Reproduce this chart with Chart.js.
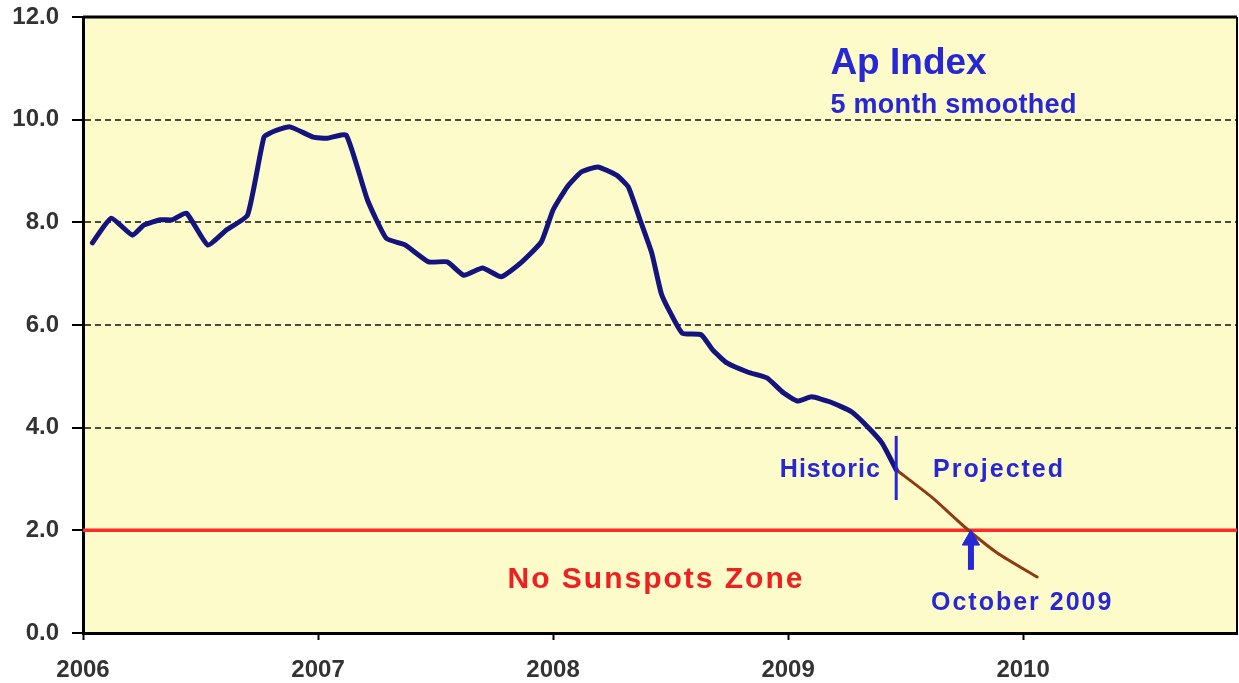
<!DOCTYPE html>
<html lang="en">
<head>
<meta charset="UTF-8">
<title>Ap Index</title>
<script src="https://cdnjs.cloudflare.com/ajax/libs/Chart.js/4.4.1/chart.umd.min.js"></script>
<style>
  html, body { margin: 0; padding: 0; background: #fff; }
  #wrap { width: 1239px; height: 683px; }
</style>
</head>
<body>
<div id="wrap"><canvas id="apChart" width="1239" height="683"></canvas></div>
<script>
// Ap index, 5 month smoothed (x in decimal years)
const histYears = [2006.04, 2006.12, 2006.21, 2006.26, 2006.33, 2006.38, 2006.44, 2006.53, 2006.61, 2006.70,
                   2006.77, 2006.81, 2006.88, 2006.98, 2007.04, 2007.12, 2007.21, 2007.29, 2007.37, 2007.47,
                   2007.55, 2007.62, 2007.70, 2007.78, 2007.86, 2007.95, 2008.00, 2008.06, 2008.12, 2008.19,
                   2008.27, 2008.32, 2008.37, 2008.42, 2008.46, 2008.50, 2008.55, 2008.63, 2008.68, 2008.74,
                   2008.83, 2008.91, 2008.98, 2009.04, 2009.10, 2009.18, 2009.27, 2009.34, 2009.40, 2009.46];
const histAp    = [7.60, 8.08, 7.75, 7.95, 8.05, 8.05, 8.18, 7.56, 7.85, 8.14,
                   9.66, 9.77, 9.86, 9.66, 9.64, 9.70, 8.44, 7.69, 7.56, 7.23,
                   7.23, 6.97, 7.11, 6.94, 7.20, 7.62, 8.24, 8.69, 8.98, 9.08,
                   8.92, 8.69, 8.05, 7.40, 6.62, 6.23, 5.84, 5.81, 5.51, 5.26,
                   5.08, 4.97, 4.68, 4.52, 4.60, 4.50, 4.31, 4.01, 3.70, 3.18];
const projYears = [2009.46, 2009.61, 2009.75, 2009.89, 2010.06];
const projAp    = [3.18, 2.65, 2.07, 1.56, 1.09];
const zoneYears = [2006, 2010.91];
const zoneAp    = [2.0, 2.0];
const xTicks = [2006, 2007, 2008, 2009, 2010];
const yTicks = [0, 2, 4, 6, 8, 10, 12];

// markers: split between historic / projected, and the October 2009 arrow
const splitYear = 2009.46;
const splitRange = [2.59, 3.84];
const arrowYear = 2009.778;
const arrowShaft = [1.23, 1.72];
const arrowHead = 1.81;

const FAMILY = '"Liberation Sans", Arial, sans-serif';
const BLUE = '#2727d6';

const notes = [
  {text: 'Ap Index', x: 2009.18, y: 10.89, size: 37, color: BLUE, align: 'left', sp: 0},
  {text: '5 month smoothed', x: 2009.18, y: 10.13, size: 27, color: BLUE, align: 'left', sp: 0.3},
  {text: 'Historic', x: 2009.395, y: 3.04, size: 25, color: BLUE, align: 'right', sp: 1},
  {text: 'Projected', x: 2009.617, y: 3.04, size: 25, color: BLUE, align: 'left', sp: 2},
  {text: 'No Sunspots Zone', x: 2007.806, y: 0.877, size: 30, color: '#ee2020', align: 'left', sp: 2},
  {text: 'October 2009', x: 2009.608, y: 0.448, size: 25, color: BLUE, align: 'left', sp: 2}
];

const pts = (xs, ys) => xs.map((x, i) => ({x: x, y: ys[i]}));

const backdrop = {
  id: 'backdrop',
  beforeDraw(chart) {
    const {ctx, chartArea: a} = chart;
    ctx.save();
    ctx.fillStyle = '#fff';
    ctx.fillRect(0, 0, chart.width, chart.height);
    ctx.fillStyle = '#fdfbc9';
    ctx.fillRect(a.left, a.top, a.right - a.left, a.bottom - a.top);
    ctx.restore();
  },
  beforeDatasetsDraw(chart) {
    const {ctx, chartArea: a} = chart;
    ctx.save();
    ctx.strokeStyle = '#000';
    ctx.lineWidth = 3;
    ctx.beginPath();
    ctx.moveTo(a.left, a.top);
    ctx.lineTo(a.right, a.top);
    ctx.stroke();
    ctx.lineWidth = 2;
    ctx.beginPath();
    ctx.moveTo(a.right, a.top);
    ctx.lineTo(a.right, a.bottom);
    ctx.stroke();
    ctx.restore();
  }
};

const notesPlugin = {
  id: 'notes',
  afterDatasetsDraw(chart) {
    const {ctx, scales: {x, y}} = chart;
    ctx.save();
    notes.forEach(n => {
      ctx.font = 'bold ' + n.size + 'px ' + FAMILY;
      ctx.fillStyle = n.color;
      ctx.textAlign = n.align;
      ctx.textBaseline = 'alphabetic';
      ctx.letterSpacing = n.sp + 'px';
      ctx.fillText(n.text, x.getPixelForValue(n.x), y.getPixelForValue(n.y));
    });
    ctx.restore();
  }
};

new Chart(document.getElementById('apChart'), {
  type: 'line',
  data: {
    datasets: [
      {label: 'Historic', data: pts(histYears, histAp), borderColor: '#14147e', borderWidth: 5,
       pointRadius: 0, tension: 0.15, borderCapStyle: 'round', borderJoinStyle: 'round', order: 3},
      {label: 'Projected', data: pts(projYears, projAp), borderColor: '#8f3b12', borderWidth: 3,
       pointRadius: 0, tension: 0.2, borderCapStyle: 'round', order: 4},
      {label: 'No Sunspots', data: pts(zoneYears, zoneAp), borderColor: '#ff2a2a', borderWidth: 3.5,
       pointRadius: 0, order: 5},
      {label: 'split', data: pts([splitYear, splitYear], splitRange), borderColor: BLUE, borderWidth: 3,
       pointRadius: 0, order: 2},
      {label: 'arrow', data: pts([arrowYear, arrowYear], arrowShaft), borderColor: BLUE, borderWidth: 6,
       pointRadius: 0, order: 1},
      {label: 'arrowhead', data: pts([arrowYear], [arrowHead]), showLine: false, pointStyle: 'triangle',
       pointRadius: 10, backgroundColor: BLUE, borderColor: BLUE, borderWidth: 1, order: 1}
    ]
  },
  plugins: [backdrop, notesPlugin],
  options: {
    responsive: false,
    animation: false,
    layout: {autoPadding: false, padding: {top: 17, right: 2, left: 0, bottom: 0}},
    plugins: {legend: {display: false}, tooltip: {enabled: false}},
    scales: {
      x: {
        type: 'linear', min: 2006, max: 2010.91,
        afterFit: s => { s.height = 50; s.paddingLeft = 0; s.paddingRight = 0; },
        afterBuildTicks: s => { s.ticks = xTicks.map(v => ({value: v})); },
        ticks: {callback: v => String(v), font: {family: FAMILY, size: 24, weight: 'bold'},
                color: '#333', padding: 16, maxRotation: 0, autoSkip: false},
        grid: {drawOnChartArea: false, tickLength: 7, tickColor: '#000', tickWidth: 2},
        border: {color: '#000', width: 3}
      },
      y: {
        min: 0, max: 12,
        afterFit: s => { s.width = 83; s.paddingTop = 0; s.paddingBottom = 0; },
        afterBuildTicks: s => { s.ticks = yTicks.map(v => ({value: v})); },
        ticks: {callback: v => v.toFixed(1), font: {family: FAMILY, size: 24, weight: 'bold'},
                color: '#333', padding: 13},
        grid: {
          color: c => (c.tick && (c.tick.value === 0 || c.tick.value === 12)) ? 'rgba(0,0,0,0)' : '#4a4a3a',
          lineWidth: 2, tickLength: 11, tickColor: '#000', tickWidth: 2
        },
        border: {color: '#000', width: 3, dash: [6, 4]}
      }
    }
  }
});
</script>
</body>
</html>
